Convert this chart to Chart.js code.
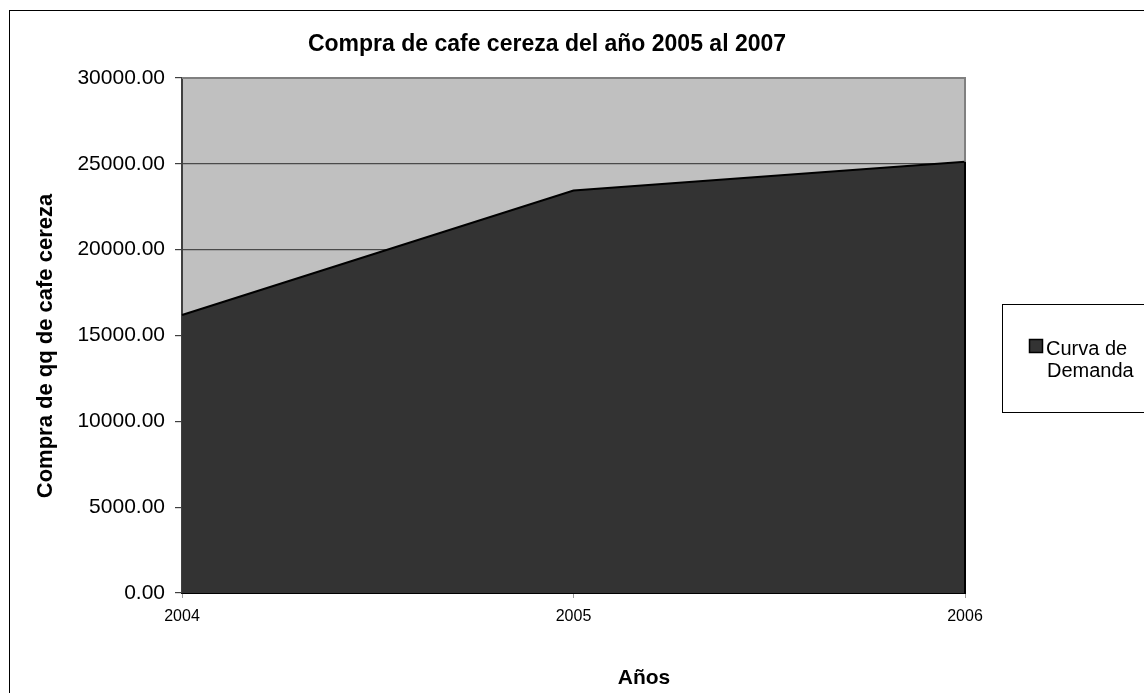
<!DOCTYPE html>
<html>
<head>
<meta charset="utf-8">
<script src="https://cdn.jsdelivr.net/npm/chart.js@4/dist/chart.umd.min.js"></script>
<style>
  html, body { margin: 0; padding: 0; background: #fff; overflow: hidden; }
  canvas { display: block; }
</style>
</head>
<body>
<canvas id="chart" width="1144" height="693"></canvas>
<script>
const years = ['2004', '2005', '2006'];
const compras = [16190, 23440, 25120];
const seriesName = ['Curva de', 'Demanda'];
const chartTitle = 'Compra de cafe cereza del año 2005 al 2007';
const yTitle = 'Compra de qq de cafe cereza';
const xTitle = 'Años';

const FONT = '"Liberation Sans", Arial, sans-serif';

// titles, legend box, plot background and frame
const decor = {
  id: 'decor',
  beforeDraw(chart) {
    const { ctx, chartArea: a } = chart;
    ctx.save();
    ctx.fillStyle = '#fff';
    ctx.fillRect(0, 0, chart.width, chart.height);
    ctx.fillStyle = '#c0c0c0';
    ctx.fillRect(a.left, a.top, a.right - a.left, a.bottom - a.top);
    ctx.restore();
  },
  afterDatasetsDraw(chart) {
    const { ctx, chartArea: a } = chart;
    const pts = chart.getDatasetMeta(0).data;
    const last = pts[pts.length - 1];
    ctx.save();
    ctx.lineWidth = 2;
    ctx.strokeStyle = '#808080';
    ctx.beginPath();
    ctx.moveTo(a.left, a.top);
    ctx.lineTo(a.right, a.top);
    ctx.lineTo(a.right, last.y);
    ctx.stroke();
    ctx.strokeStyle = '#000';
    ctx.beginPath();
    ctx.moveTo(a.right, last.y);
    ctx.lineTo(a.right, a.bottom);
    ctx.stroke();
    ctx.restore();
  },
  afterDraw(chart) {
    const ctx = chart.ctx;
    ctx.save();
    // outer frame
    ctx.strokeStyle = '#000';
    ctx.lineWidth = 1;
    ctx.strokeRect(9.5, 10.5, 1300, 900);

    ctx.fillStyle = '#000';
    ctx.font = 'bold 23px ' + FONT;
    ctx.textAlign = 'center';
    ctx.textBaseline = 'alphabetic';
    ctx.fillText(chartTitle, 547, 51);

    ctx.font = 'bold 21px ' + FONT;
    ctx.textBaseline = 'middle';
    ctx.fillText(xTitle, 644, 678);

    ctx.save();
    ctx.translate(46, 346);
    ctx.rotate(-Math.PI / 2);
    ctx.font = 'bold 22px ' + FONT;
    ctx.fillText(yTitle, 0, 0);
    ctx.restore();

    // legend
    ctx.strokeStyle = '#000';
    ctx.lineWidth = 1;
    ctx.strokeRect(1002.5, 304.5, 200, 108);
    ctx.fillStyle = '#333333';
    ctx.fillRect(1029, 339, 14, 14);
    ctx.lineWidth = 1.5;
    ctx.strokeRect(1029.5, 339.5, 13, 13);
    ctx.fillStyle = '#000';
    ctx.font = '20px ' + FONT;
    ctx.textAlign = 'left';
    ctx.textBaseline = 'alphabetic';
    ctx.fillText(seriesName[0], 1046, 355);
    ctx.fillText(seriesName[1], 1047, 377);
    ctx.restore();
  }
};

new Chart(document.getElementById('chart'), {
  type: 'line',
  data: {
    labels: years,
    datasets: [{
      label: seriesName.join(' '),
      data: compras,
      borderColor: '#000',
      borderWidth: 2,
      backgroundColor: '#333333',
      fill: 'origin',
      pointRadius: 0,
      tension: 0
    }]
  },
  options: {
    responsive: false,
    animation: false,
    devicePixelRatio: 1,
    layout: { padding: { top: 78, right: 179, bottom: 0, left: 0 } },
    plugins: {
      legend: { display: false },
      title: { display: false },
      tooltip: { enabled: false }
    },
    scales: {
      x: {
        z: 1,
        offset: false,
        afterFit: (scale) => { scale.height = 100; },
        grid: { drawOnChartArea: false, drawTicks: true, tickLength: 5, tickColor: '#999' },
        border: { color: '#000', width: 2 },
        ticks: { color: '#000', font: { family: FONT, size: 16 }, padding: 9, maxRotation: 0 }
      },
      y: {
        min: 0,
        max: 30000,
        afterFit: (scale) => { scale.width = 182; },
        grid: {
          color: (c) => c.tick && c.tick.value === 30000 ? '#808080' : '#4a4a4a',
          lineWidth: 1.2,
          tickLength: 7,
          tickColor: '#404040'
        },
        border: { color: '#404040', width: 2 },
        ticks: {
          stepSize: 5000,
          color: '#000',
          padding: 10,
          font: { family: FONT, size: 21 },
          callback: (v) => v.toFixed(2)
        }
      }
    }
  },
  plugins: [decor]
});
</script>
</body>
</html>
